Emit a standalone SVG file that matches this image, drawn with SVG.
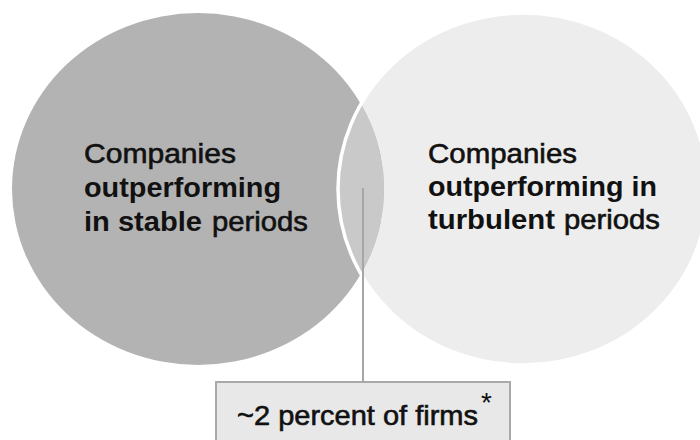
<svg xmlns="http://www.w3.org/2000/svg" width="700" height="440" viewBox="0 0 700 440">
<style>
.t{font-family:"Liberation Sans",Arial,sans-serif;font-size:28px;fill:#111111}
.r{stroke:#111111;stroke-width:0.6px}
.b{font-weight:bold}
</style>
<defs>
<clipPath id="rc"><ellipse cx="523" cy="189" rx="185" ry="176"/></clipPath>
</defs>
<rect width="700" height="440" fill="#ffffff"/>
<g id="turbulent">
<ellipse cx="523" cy="189" rx="185" ry="176" fill="#ededed"/>
</g>
<g id="stable">
<ellipse cx="198" cy="189" rx="186" ry="176" fill="#b3b3b3"/>
</g>
<g id="overlap">
<ellipse cx="198" cy="189" rx="186" ry="176" fill="#c9c9c9" clip-path="url(#rc)"/>
<ellipse cx="523" cy="189" rx="185" ry="176" fill="none" stroke="#ffffff" stroke-width="3.5"/>
</g>
<g id="stable-label">
<text class="t r" x="84" y="163" textLength="152" lengthAdjust="spacingAndGlyphs">Companies</text>
<text class="t b" x="84" y="197" textLength="197" lengthAdjust="spacingAndGlyphs">outperforming</text>
<text class="t b" x="84" y="231" textLength="118" lengthAdjust="spacingAndGlyphs">in stable</text>
<text class="t r" x="212" y="231" textLength="96" lengthAdjust="spacingAndGlyphs">periods</text>
</g>
<g id="turbulent-label">
<text class="t r" x="428" y="163" textLength="149" lengthAdjust="spacingAndGlyphs">Companies</text>
<text class="t b" x="428" y="196" textLength="229" lengthAdjust="spacingAndGlyphs">outperforming in</text>
<text class="t b" x="428" y="229" textLength="127" lengthAdjust="spacingAndGlyphs">turbulent</text>
<text class="t r" x="564" y="229" textLength="96" lengthAdjust="spacingAndGlyphs">periods</text>
</g>
<g id="connectors">
<line x1="363" y1="188" x2="363" y2="382" stroke="#a6a6a6" stroke-width="2"/>
</g>
<g id="share-box">
<rect x="216" y="382" width="294" height="70" fill="#e8e8e8" stroke="#a9a9a9" stroke-width="2"/>
<text class="t r" x="237" y="425" textLength="241" lengthAdjust="spacingAndGlyphs">~2 percent of firms</text>
<text class="t" x="481" y="412" font-size="14">*</text>
</g>
</svg>
